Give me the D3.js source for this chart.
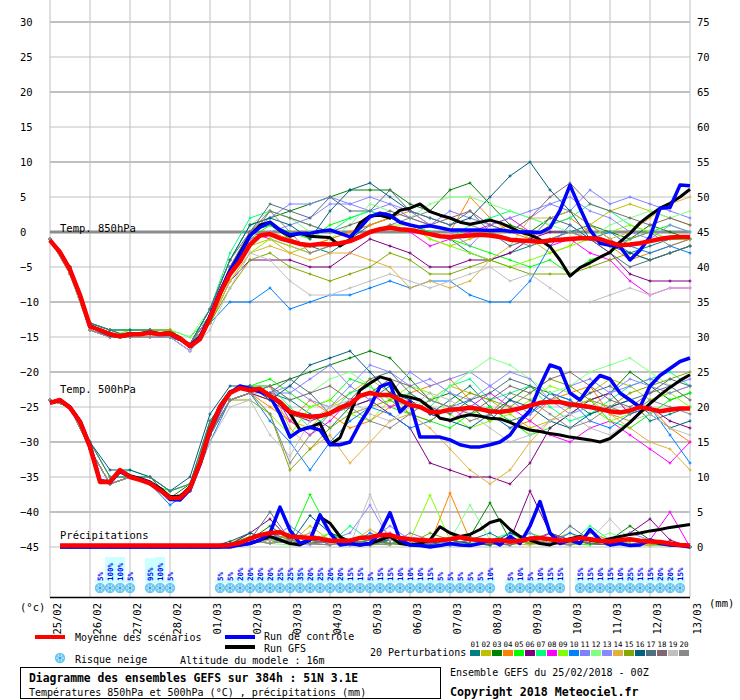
<!DOCTYPE html>
<html>
<head>
<meta charset="utf-8">
<script src="https://cdn.jsdelivr.net/npm/d3@7"></script>
<style>
  body { margin: 0; background: #fff; }
  text { font-family: "DejaVu Sans Mono", "Liberation Mono", monospace; }
</style>
</head>
<body>
<svg id="chart" width="740" height="700"></svg>
<script>
// ---- data (25/02/2018 00Z, 51N 3.1E) ----
const dayLabels = ['25/02','26/02','27/02','28/02','01/03','02/03','03/03','04/03','05/03',
  '06/03','07/03','08/03','09/03','10/03','11/03','12/03','13/03'];
const tempTicks = [-45,-40,-35,-30,-25,-20,-15,-10,-5,0,5,10,15,20,25,30];
const precipTicks = [0,5,10,15,20,25,30,35,40,45,50,55,60,65,70,75];

// 6-hourly series: mean, control run, GFS
const t850Mean = [-1.2,-2.9,-5.4,-9.0,-13.5,-14.0,-14.6,-14.9,-14.6,-14.6,
  -14.4,-14.6,-14.5,-15.2,-16.3,-15.3,-12.3,-8.8,-6.0,-4.2,
  -1.8,-0.5,-0.3,-0.9,-1.3,-1.7,-1.9,-1.7,-1.8,-1.6,
  -1.3,-0.7,0.0,0.4,0.6,0.4,0.3,0.0,-0.3,-0.6,
  -0.7,-0.6,-0.5,-0.4,-0.5,-0.7,-1.1,-1.2,-1.3,-1.4,
  -1.2,-1.1,-1.0,-0.9,-0.9,-1.0,-1.5,-1.9,-1.8,-1.6,
  -1.3,-1.0,-0.8,-0.7,-0.7];
const t850Ctrl = [-1.2,-2.9,-5.3,-9.1,-13.4,-14.1,-14.7,-14.9,-14.5,-14.6,
  -14.3,-14.6,-14.6,-15.3,-16.2,-15.0,-12.0,-8.5,-5.5,-3.3,
  -0.5,0.7,1.4,0.3,-0.4,-0.2,-0.2,0.1,0.3,-0.2,
  -0.7,0.6,2.2,2.7,2.4,1.4,1.0,0.7,0.9,0.6,
  0.3,0.3,0.3,0.3,0.2,0.3,0.1,0.0,0.0,-0.1,
  0.6,3.1,6.7,3.4,0.3,-1.6,-1.9,-2.1,-4.0,-2.6,
  -0.7,3.4,3.5,6.7,6.6];
const t850Gfs = [-1.2,-2.8,-5.4,-9.0,-13.5,-14.0,-14.5,-15.0,-14.7,-14.5,
  -14.4,-14.5,-14.4,-15.1,-16.4,-15.2,-12.2,-8.6,-5.6,-3.0,
  -0.5,1.0,1.4,0.2,-0.6,-0.2,-0.6,-0.7,-0.8,-2.0,
  -1.1,1.3,2.3,2.4,2.0,3.1,3.4,4.0,2.9,2.4,
  2.0,1.4,1.1,1.4,1.7,1.3,0.7,0.0,-0.4,-1.1,
  -2.1,-4.0,-6.3,-5.1,-4.4,-3.6,-2.9,-1.4,-0.2,1.3,
  2.4,3.4,4.1,5.0,6.1];
const t500Mean = [-24.4,-24.0,-25.1,-27.1,-30.7,-35.7,-35.7,-34.0,-35.0,-35.4,
  -35.9,-36.9,-38.0,-38.0,-36.6,-33.0,-28.3,-25.0,-23.0,-22.3,
  -22.6,-22.4,-23.4,-24.3,-25.7,-26.1,-26.4,-26.3,-25.9,-25.1,
  -24.6,-23.4,-23.0,-23.3,-23.3,-24.0,-24.7,-25.0,-25.7,-25.7,
  -25.4,-25.3,-25.1,-25.3,-25.6,-25.7,-25.5,-25.2,-24.8,-24.4,
  -24.3,-24.3,-24.6,-24.8,-25.0,-25.3,-25.6,-25.8,-25.5,-25.0,
  -25.3,-25.6,-25.4,-25.2,-25.2];
const t500Ctrl = [-24.4,-24.0,-25.0,-27.0,-30.5,-35.5,-35.8,-34.2,-35.0,-35.3,
  -35.8,-36.8,-38.2,-38.3,-36.8,-33.2,-28.5,-25.2,-23.0,-22.0,
  -22.4,-22.8,-23.5,-26.0,-29.3,-28.3,-27.9,-28.3,-30.4,-30.4,
  -30.0,-27.3,-25.0,-22.1,-21.6,-25.7,-24.3,-29.3,-29.3,-29.3,
  -29.7,-30.4,-30.7,-30.7,-30.4,-30.0,-29.0,-27.0,-25.5,-22.0,
  -19.0,-19.5,-23.0,-24.0,-22.0,-20.5,-21.0,-23.0,-24.0,-25.0,
  -22.0,-20.5,-19.5,-18.5,-18.0];
const t500Gfs = [-24.4,-24.1,-25.2,-27.2,-30.8,-35.6,-35.6,-34.1,-34.8,-35.2,
  -35.7,-36.6,-37.8,-37.8,-36.4,-32.8,-28.0,-24.8,-22.8,-22.3,
  -22.5,-22.8,-23.4,-24.5,-25.9,-28.3,-27.9,-27.3,-30.4,-29.4,
  -25.9,-22.6,-21.6,-20.7,-21.1,-23.3,-23.6,-24.0,-25.1,-26.6,
  -26.9,-26.4,-26.1,-26.3,-26.6,-26.7,-27.2,-27.8,-28.3,-28.5,
  -28.8,-29.0,-29.3,-29.5,-29.7,-30.0,-29.5,-28.4,-27.2,-25.8,
  -24.5,-23.3,-22.2,-21.2,-20.4];
const precipMean = [null,0.2,0.2,0.2,0.2,0.2,0.2,0.2,0.2,0.2,
  0.2,0.2,0.2,0.2,0.2,0.2,0.2,0.2,0.3,0.6,
  1.2,1.7,2.0,2.1,1.5,1.4,1.3,1.2,0.9,0.9,
  0.9,1.3,1.4,1.7,1.7,1.3,1.1,1.0,0.9,1.0,
  1.1,1.4,1.1,1.0,0.9,1.0,0.8,0.9,1.2,1.3,
  1.1,0.9,1.0,1.3,1.1,0.9,0.8,1.0,1.1,0.9,
  0.8,0.7,0.5,0.3,0.2];
const precipCtrl = [null,0,0,0,0,0,0,0,0,0,
  0,0,0,0,0,0,0,0,0,0.3,
  0.5,1.0,2.0,5.7,2.4,0.5,1.0,4.6,2.0,0.3,
  0.5,0.3,0.5,2.0,4.9,1.0,0.3,0.2,0,0.2,
  0.5,0.3,0.2,0.5,1.0,0.3,1.5,0.5,3.0,6.5,
  2.0,0.5,1.0,0.5,2.5,1.0,0.3,0.5,0.2,0.3,
  1.0,0.5,0.3,0.2,0];
const precipGfs = [null,0,0,0,0,0,0,0,0,0,
  0,0,0,0,0,0,0,0,0.2,0.3,
  0.5,1.0,1.5,1.0,0.5,0.3,1.0,4.3,3.4,1.5,
  0.5,0.3,0.5,1.0,1.5,0.5,0.3,0.5,1.0,2.9,
  2.0,1.5,1.8,2.5,3.5,3.9,2.5,1.5,1.0,0.5,
  0.3,0.8,1.2,1.5,1.0,0.8,1.2,1.5,1.8,2.0,
  2.3,2.5,2.8,3.0,3.2];

// 12-hourly perturbations 01..20
const pertColors = ['#008080','#c0c000','#008000','#ff8000','#00ff00','#800080','#00ff80',
  '#ff00ff','#80ff00','#0080ff','#8080ff','#80ff80','#8888ff','#e0b040','#80a800',
  '#006080','#507080','#806870','#c0c0c0','#888888'];
const pertNames = ['01','02','03','04','05','06','07','08','09','10',
  '11','12','13','14','15','16','17','18','19','20'];
const t850Pert = [
  [-1,-5,-13,-15,-15,-14,-15,-16,-12,-5,0,1,-1,-2,-3,-1,1,2,1,0,-1,-3,-4,-3,-2,-1,0,1,-1,-3,-2,-1,-1],
  [-1,-6,-14,-15,-14,-14,-14,-16,-13,-6,-2,-1,-3,-2,-1,0,1,2,1,-1,-2,-1,0,1,-1,-3,-2,1,3,4,3,2,1],
  [-1,-5,-13,-14,-15,-14,-15,-16,-11,-4,1,2,3,4,5,6,6,6,4,3,6,7,4,1,0,2,3,1,0,-1,1,0,-1],
  [-1,-5,-14,-15,-15,-15,-14,-16,-12,-6,-1,0,-1,-2,-1,0,1,2,3,1,0,5,2,0,-1,1,2,0,-2,-4,-3,-2,-1],
  [-1,-5,-13,-14,-14,-14,-14,-15,-12,-5,-1,1,0,-1,1,2,3,2,1,0,-1,-2,-3,-4,-5,-4,-6,-4,-3,-1,0,1,0],
  [-1,-6,-14,-15,-15,-14,-15,-16,-13,-7,-4,-4,-4,-5,-5,-3,-1,-2,-3,-5,-5,-4,-4,-3,-1,0,0,-1,-3,-6,-7,-7,-7],
  [-1,-5,-13,-14,-14,-14,-15,-16,-11,-3,2,3,2,1,0,2,3,2,1,0,-1,1,2,3,2,1,2,4,3,1,0,-1,-1],
  [-1,-5,-14,-15,-15,-15,-15,-17,-12,-6,0,-1,-2,-3,-2,-1,0,1,0,-2,-1,0,1,2,0,-2,-1,-3,-4,-7,-9,-8,-8],
  [-1,-6,-14,-15,-14,-14,-15,-16,-13,-7,-3,-1,-2,-3,-2,-1,0,1,1,-1,-2,-3,-4,-5,-4,-3,-2,-1,0,1,0,-1,-1],
  [-1,-6,-14,-15,-15,-15,-15,-17,-13,-10,-10,-8,-11,-10,-9,-9,-8,-7,-8,-7,-7,-9,-10,-10,-7,-2,1,-1,0,-2,-3,-2,-3],
  [-1,-5,-13,-15,-15,-14,-14,-16,-12,-5,0,2,4,4,5,4,3,4,2,1,3,2,1,0,2,4,3,6,4,5,4,3,2],
  [-1,-5,-13,-14,-14,-14,-14,-15,-11,-4,1,3,2,0,-1,1,4,3,2,4,5,5,4,3,2,1,0,-1,1,2,3,2,3],
  [-1,-5,-14,-15,-15,-15,-15,-16,-12,-5,-1,0,1,2,4,4,5,4,3,1,0,-2,1,2,3,4,5,3,2,0,-1,1,0],
  [-1,-6,-14,-15,-15,-15,-14,-16,-13,-7,-3,-2,-3,-4,-3,-3,-4,-5,-8,-7,-8,-7,-4,-2,2,2,3,1,-1,0,2,4,5],
  [-1,-6,-14,-15,-15,-14,-14,-16,-13,-8,-4,-3,-5,-6,-7,-6,-5,-3,-4,-6,-6,-5,-4,-5,-6,-6,-6,-5,-4,-3,-4,-3,-2],
  [-1,-5,-13,-14,-14,-14,-15,-16,-11,-4,1,2,1,-1,3,6,7,5,3,2,1,2,5,8,10,6,3,-1,-2,-3,-4,-3,-2],
  [-1,-5,-13,-14,-15,-14,-15,-16,-11,-4,0,4,3,2,5,3,3,6,3,2,1,3,0,-2,-1,2,1,-1,-3,-5,-4,-3,-2],
  [-1,-5,-14,-15,-15,-14,-15,-16,-12,-5,0,3,2,1,0,1,2,3,2,1,2,3,1,0,2,5,7,4,3,2,1,2,1],
  [-1,-6,-14,-15,-15,-15,-15,-17,-14,-8,-3,-4,-7,-9,-9,-8,-7,-6,-7,-8,-7,-6,-5,-7,-6,-8,-10,-10,-9,-8,-9,-8,-8],
  [-1,-5,-14,-15,-15,-15,-15,-16,-12,-6,-1,3,0,-3,-2,-1,0,1,2,3,2,1,0,-1,-2,-1,0,-1,-2,-1,0,-2,-1]
];
const t500Pert = [
  [-24,-25,-31,-36,-35,-36,-38,-37,-29,-23,-22,-23,-24,-26,-28,-25,-24,-22,-24,-26,-24,-22,-25,-27,-26,-23,-24,-26,-25,-24,-27,-26,-25],
  [-24,-25,-31,-36,-35,-36,-38,-37,-29,-24,-23,-24,-27,-28,-25,-23,-21,-23,-26,-24,-22,-23,-24,-26,-28,-27,-25,-23,-21,-22,-24,-23,-22],
  [-24,-25,-30,-35,-35,-35,-38,-36,-27,-23,-22,-22,-21,-20,-19,-18,-17,-18,-21,-24,-23,-25,-27,-24,-22,-23,-25,-24,-23,-20,-22,-24,-23],
  [-24,-25,-31,-36,-35,-36,-38,-37,-29,-24,-23,-25,-27,-24,-26,-28,-27,-25,-23,-22,-21,-24,-26,-28,-27,-24,-23,-22,-26,-27,-25,-28,-30],
  [-24,-25,-31,-36,-35,-36,-37,-36,-28,-23,-22,-21,-23,-25,-24,-21,-22,-25,-26,-27,-28,-26,-25,-27,-29,-28,-26,-24,-27,-28,-26,-24,-23],
  [-24,-25,-31,-36,-35,-36,-38,-37,-29,-24,-23,-24,-26,-27,-26,-25,-24,-26,-28,-33,-34,-35,-35,-36,-33,-28,-26,-24,-23,-26,-25,-27,-28],
  [-24,-25,-30,-35,-34,-35,-37,-36,-27,-23,-22,-22,-25,-28,-26,-23,-22,-24,-23,-25,-22,-21,-24,-23,-22,-25,-27,-26,-24,-22,-21,-20,-22],
  [-24,-25,-31,-36,-35,-36,-38,-37,-29,-24,-23,-22,-27,-29,-27,-24,-23,-25,-24,-26,-27,-25,-23,-25,-27,-29,-30,-28,-27,-29,-31,-33,-30],
  [-24,-25,-31,-36,-35,-36,-38,-37,-29,-24,-23,-26,-29,-25,-24,-26,-27,-24,-22,-23,-26,-28,-27,-26,-24,-22,-23,-25,-27,-26,-24,-23,-25],
  [-24,-25,-31,-36,-35,-36,-39,-37,-30,-24,-23,-27,-30,-34,-30,-27,-25,-26,-28,-27,-25,-24,-26,-28,-26,-23,-24,-27,-28,-26,-25,-29,-33],
  [-24,-25,-31,-36,-35,-36,-38,-37,-29,-23,-22,-23,-23,-21,-19,-22,-24,-23,-20,-22,-21,-20,-22,-24,-26,-24,-22,-21,-23,-22,-21,-22,-21],
  [-24,-25,-30,-35,-35,-35,-37,-36,-28,-23,-22,-22,-24,-23,-21,-20,-22,-24,-25,-24,-22,-20,-18,-19,-21,-23,-22,-20,-19,-18,-20,-22,-24],
  [-24,-25,-31,-36,-35,-36,-38,-37,-29,-24,-23,-23,-22,-24,-25,-22,-19,-20,-22,-21,-23,-24,-22,-20,-21,-24,-26,-25,-23,-21,-22,-23,-22],
  [-24,-25,-31,-36,-35,-36,-38,-37,-29,-24,-23,-22,-28,-31,-29,-33,-30,-27,-26,-28,-31,-34,-36,-34,-30,-27,-25,-24,-26,-28,-30,-31,-34],
  [-24,-25,-31,-36,-35,-36,-38,-37,-29,-24,-24,-26,-34,-31,-28,-26,-25,-24,-26,-27,-25,-23,-24,-25,-23,-21,-22,-24,-25,-23,-22,-21,-20],
  [-24,-25,-30,-34,-34,-35,-37,-35,-26,-22,-22,-24,-22,-19,-18,-17,-20,-23,-24,-26,-27,-28,-26,-24,-25,-27,-28,-26,-25,-24,-26,-28,-27],
  [-24,-25,-30,-35,-35,-35,-37,-36,-27,-23,-22,-23,-21,-23,-26,-24,-21,-20,-23,-25,-26,-24,-23,-21,-22,-24,-25,-23,-22,-24,-23,-21,-22],
  [-24,-25,-31,-36,-35,-36,-38,-37,-29,-24,-23,-22,-24,-23,-22,-24,-23,-21,-22,-24,-25,-26,-24,-22,-23,-21,-20,-22,-24,-25,-23,-22,-24],
  [-24,-25,-31,-36,-35,-36,-38,-37,-30,-25,-24,-29,-32,-27,-25,-24,-26,-27,-25,-23,-24,-26,-28,-30,-29,-27,-26,-28,-29,-27,-26,-28,-29],
  [-24,-25,-31,-36,-35,-36,-38,-37,-29,-24,-23,-26,-33,-29,-26,-25,-27,-28,-26,-24,-25,-27,-26,-23,-24,-26,-28,-27,-25,-26,-24,-25,-26]
];
const precipPert = [
  [0,0,0,0,0,0,0,0,0,0.3,1,0.5,2,1,0.5,1,0.3,0.5,1,0.5,0.2,1,2,0.5,1,0.5,0.3,1,0.5,0.2,0.5,0.3,0],
  [0,0,0,0,0,0,0,0,0,0.5,2,1,0.5,3,1,0.5,0.2,1,0.5,0.3,1,0.5,0.3,1.5,0.5,1,2,0.5,0.3,1,0.5,0.2,0],
  [0,0,0,0,0,0,0,0,0,0.2,1,3,1,0.5,2,0.5,1,0.5,0.3,0.5,1,1.5,6.3,1,0.5,2,1,0.5,1,3,1,0.5,0],
  [0,0,0,0,0,0,0,0,0,0.3,1,0.5,1,2,0.5,0.3,1,0.5,1,0.5,7.7,1,0.5,0.3,1,0.5,0.3,2,1,0.5,0.2,0.5,0],
  [0,0,0,0,0,0,0,0,0,0.5,1.5,1,1,7.5,2,0.5,1,0.5,0.3,1,0.5,0.3,1,0.5,2,1,0.5,0.3,1,0.5,0.3,0.2,0],
  [0,0,0,0,0,0,0,0,0,0.3,2,4,1,0.5,1,0.5,0.3,1,0.5,0.5,1,0.5,0.3,1,8,2,0.5,1,0.5,2,4,1,0],
  [0,0,0,0,0,0,0,0,0,0.5,1,0.5,2,1,0.5,3,1,0.5,1,0.3,1,0.5,1,2,0.5,1,0.5,3,1,0.5,0.3,0.5,0],
  [0,0,0,0,0,0,0,0,0,0.2,0.5,2,1,0.5,0.3,1,0.5,2,0.5,0.3,1,0.5,0.3,1,0.5,2,1,0.5,1,0.3,1,5,0],
  [0,0,0,0,0,0,0,0,0,0.3,1,0.5,1,0.5,2,1,0.5,0.3,1,7.4,1,0.5,0.3,1,0.5,1,0.3,0.5,1,0.5,0.3,0.2,0],
  [0,0,0,0,0,0,0,0,0,0.2,1,2,0.5,1,0.5,0.3,2,1,0.5,0.3,0.5,1,0.5,0.3,1,0.5,2,1,0.5,0.3,1,0.5,0],
  [0,0,0,0,0,0,0,0,0,0.3,0.5,1,3,1,0.5,0.3,1,3,1,0.5,0.3,1,0.5,2,1,0.5,1,0.5,0.3,2,1,0.5,0],
  [0,0,0,0,0,0,0,0,0,0.5,1,0.5,0.3,1,2,1,0.5,1,0.5,0.3,1,6,1,0.5,0.3,1,0.5,1,2,1,0.5,0.3,0],
  [0,0,0,0,0,0,0,0,0,0.2,0.5,1,0.5,0.3,1,2,6,1,0.5,1,0.5,0.3,1,0.5,2,0.5,0.3,1,0.5,1,0.5,0.3,0],
  [0,0,0,0,0,0,0,0,0,0.3,1,0.5,2,0.5,1,0.5,2.5,1,0.5,1,0.5,0.3,1,0.5,0.3,1,0.5,2,1,0.5,0.3,0.5,0],
  [0,0,0,0,0,0,0,0,0,0.5,1,2,1,0.5,0.3,1,0.5,1,0.5,2,1,0.5,0.3,1,0.5,0.3,1,0.5,0.3,1,0.5,0.3,0],
  [0,0,0,0,0,0,0,0,0,0.8,2,1,0.5,4.5,2,1,0.5,1,0.5,0.3,1,0.5,0.3,2,1,0.5,1,0.5,0.3,1,0.5,0.3,0],
  [0,0,0,0,0,0,0,0,0,0.3,1,5,1,0.5,1,0.5,0.3,1,0.5,1,0.5,0.3,1,0.5,1,0.5,3,1,0.5,0.3,1,0.5,0],
  [0,0,0,0,0,0,0,0,0,0.2,0.5,1,0.5,1,0.5,0.3,1,0.5,0.3,1,0.5,1,0.5,0.3,1,2,1,0.5,0.3,1,0.5,0.3,0],
  [0,0,0,0,0,0,0,0,0,0.3,0.5,1,0.5,2,0.5,0.3,7.5,1,0.5,1,0.5,0.3,1,0.5,1,0.5,0.3,1,4,1,0.5,0.3,0],
  [0,0,0,0,0,0,0,0,0,0.2,1,0.5,1,0.5,0.3,1,0.5,0.3,2,1,0.5,0.3,1,0.5,1,0.5,0.3,1,0.5,0.3,1,0.5,0]
];

// snow risk (% of members) at forecast hour
const snowHours = [30,36,42,48, 60,66,72,
  102,108,114,120,126,132,138,144,150,156,162,168,174,180,186,192,198,204,210,216,222,228,234,240,246,252,258,264,
  276,282,288,294,300,306,
  318,324,330,336,342,348,354,360,366,372,378];
const snowPct = [5,100,100,5, 95,100,5,
  5,5,20,20,20,20,25,25,35,20,25,20,20,15,15,5,15,15,10,10,10,15,5,5,5,5,5,10,
  5,10,5,10,15,15,
  15,15,10,15,10,25,15,15,20,20,15];

// ---- chart ----
const svg = d3.select('#chart');
const dayHours = dayLabels.map((d, i) => i * 24);

const x = d3.scaleLinear().domain([0, 384]).range([50, 690]);
const yT = d3.scaleLinear().domain([-45, 30]).range([547, 22]);
const yP = d3.scaleLinear().domain([0, 75]).range([547, 22]);

// grid
const grid = svg.append('g');
grid.selectAll('.vline').data(dayHours).enter().append('line')
  .attr('x1', d => x(d)).attr('x2', d => x(d))
  .attr('y1', 0).attr('y2', 597)
  .attr('stroke', '#c0c0c0').attr('stroke-width', 1);
grid.selectAll('.hline').data(tempTicks).enter().append('line')
  .attr('x1', 50).attr('x2', 690)
  .attr('y1', d => yT(d)).attr('y2', d => yT(d))
  .attr('stroke', d => d === 0 ? '#8c8c8c' : '#c0c0c0')
  .attr('stroke-width', d => d === 0 ? 3 : (d % 10 === 0 ? 2 : 1));

svg.append('line').attr('x1', 50).attr('x2', 690).attr('y1', 597.5).attr('y2', 597.5)
  .attr('stroke', '#000').attr('stroke-width', 1.5);

// axes
const axL = svg.append('g').attr('transform', 'translate(20,0)')
  .call(d3.axisLeft(yT).tickValues(tempTicks).tickSize(0).tickPadding(0));
axL.select('.domain').remove();
axL.selectAll('text').attr('x', 0).attr('text-anchor', 'start')
  .style('font-size', '10.5px').attr('fill', '#000');

const axR = svg.append('g').attr('transform', 'translate(697,0)')
  .call(d3.axisRight(yP).tickValues(precipTicks).tickSize(0).tickPadding(0));
axR.select('.domain').remove();
axR.selectAll('text').attr('x', 0).style('font-size', '10.5px').attr('fill', '#000');

const axB = svg.append('g').attr('transform', 'translate(0,597)')
  .call(d3.axisBottom(x).tickValues(dayHours).tickSize(0).tickFormat((d, i) => dayLabels[i]));
axB.select('.domain').remove();
axB.selectAll('text')
  .attr('transform', 'rotate(-90)')
  .attr('x', -6).attr('y', 10.5).attr('dy', 0)
  .attr('text-anchor', 'end')
  .style('font-size', '10.5px').attr('fill', '#000');

svg.append('text').attr('x', 20).attr('y', 611).text('(°c)').style('font-size', '10.5px');
svg.append('text').attr('x', 709).attr('y', 607).text('(mm)').style('font-size', '10.5px');

// panel labels
svg.append('text').attr('x', 60).attr('y', 232).text('Temp. 850hPa').style('font-size', '10.5px');
svg.append('text').attr('x', 60).attr('y', 393).text('Temp. 500hPa').style('font-size', '10.5px');
svg.append('text').attr('x', 60).attr('y', 539).text('Précipitations').style('font-size', '10.5px');

// line generators
const line6T = d3.line().defined(d => d != null).x((d, i) => x(i * 6)).y(d => yT(d));
const line6P = d3.line().defined(d => d != null).x((d, i) => x(i * 6)).y(d => yP(d));
const line12T = d3.line().x((d, i) => x(i * 12)).y(d => yT(d));
const line12P = d3.line().defined((d, i) => i > 0).x((d, i) => x(i * 12)).y(d => yP(d));

function crosses(values, yScale, skipFirst) {
  return values.map((v, i) => {
    if (skipFirst && i === 0) return '';
    const cx = x(i * 12), cy = yScale(v);
    return `M${cx - 1.5},${cy}H${cx + 1.5}M${cx},${cy - 1.5}V${cy + 1.5}`;
  }).join('');
}

const pertG = svg.append('g').attr('fill', 'none');
[[t850Pert, yT, line12T, false], [t500Pert, yT, line12T, false], [precipPert, yP, line12P, true]]
  .forEach(([set, ys, gen, skip]) => {
    set.forEach((vals, k) => {
      pertG.append('path').attr('d', gen(vals))
        .attr('stroke', pertColors[k]).attr('stroke-width', 1);
      pertG.append('path').attr('d', crosses(vals, ys, skip))
        .attr('stroke', pertColors[k]).attr('stroke-width', 1);
    });
  });

const mainG = svg.append('g').attr('fill', 'none').attr('stroke-linejoin', 'round');
[[t850Gfs, line6T], [t500Gfs, line6T], [precipGfs, line6P]].forEach(([v, gen]) =>
  mainG.append('path').attr('d', gen(v)).attr('stroke', '#000').attr('stroke-width', 3));
[[t850Ctrl, line6T], [t500Ctrl, line6T], [precipCtrl, line6P]].forEach(([v, gen]) =>
  mainG.append('path').attr('d', gen(v)).attr('stroke', '#0000ff').attr('stroke-width', 3.5));
[[t850Mean, line6T], [t500Mean, line6T], [precipMean, line6P]].forEach(([v, gen]) =>
  mainG.append('path').attr('d', gen(v)).attr('stroke', '#ff0000').attr('stroke-width', 4.5));

// snow risk strip
function flake(g, cx, cy) {
  g.append('circle').attr('cx', cx).attr('cy', cy).attr('r', 5.2).attr('fill', '#6cc6ee');
  [0, 60, 120].forEach(a => {
    const r = a * Math.PI / 180, dx = 4 * Math.cos(r), dy = 4 * Math.sin(r);
    g.append('line').attr('x1', cx - dx).attr('y1', cy - dy).attr('x2', cx + dx).attr('y2', cy + dy)
      .attr('stroke', '#d8f4ff').attr('stroke-width', 0.9);
  });
  g.append('circle').attr('cx', cx).attr('cy', cy).attr('r', 1.2).attr('fill', '#3a9ad8');
}

const snowG = svg.append('g');
snowG.selectAll('rect').data(snowHours).enter().append('rect')
  .attr('x', d => x(d) - 5).attr('width', 10)
  .attr('y', (d, i) => 583 - (2 + 0.24 * snowPct[i]))
  .attr('height', (d, i) => 2 + 0.24 * snowPct[i])
  .attr('fill', '#ccffff');
snowHours.forEach(h => flake(snowG, x(h), 588));
snowG.selectAll('text').data(snowHours).enter().append('text')
  .attr('transform', d => `translate(${x(d) + 2.8},581) rotate(-90)`)
  .attr('fill', '#0000ff').style('font-size', '7.5px').style('font-weight', 'bold')
  .text((d, i) => snowPct[i] + '%');

// legend
const leg = svg.append('g').style('font-size', '10px');
leg.append('line').attr('x1', 35).attr('x2', 65).attr('y1', 637).attr('y2', 637)
  .attr('stroke', '#ff0000').attr('stroke-width', 4);
leg.append('text').attr('x', 75).attr('y', 640.5).text('Moyenne des scénarios');
leg.append('line').attr('x1', 225).attr('x2', 255).attr('y1', 637).attr('y2', 637)
  .attr('stroke', '#0000ff').attr('stroke-width', 4);
leg.append('text').attr('x', 264).attr('y', 640).text('Run de contrôle');
leg.append('line').attr('x1', 225).attr('x2', 255).attr('y1', 647).attr('y2', 647)
  .attr('stroke', '#000').attr('stroke-width', 4);
leg.append('text').attr('x', 264).attr('y', 652).text('Run GFS');
flake(leg, 60, 658);
leg.append('text').attr('x', 75).attr('y', 663).text('Risque neige');
leg.append('text').attr('x', 180).attr('y', 664).text('Altitude du modele : 16m');
leg.append('text').attr('x', 370).attr('y', 656).text('20 Perturbations');

const pertLeg = svg.append('g');
pertLeg.selectAll('rect').data(pertColors).enter().append('rect')
  .attr('x', (d, i) => 470 + i * 11).attr('y', 650).attr('width', 10).attr('height', 6)
  .attr('fill', d => d);
pertLeg.selectAll('text').data(pertNames).enter().append('text')
  .attr('x', (d, i) => 475 + i * 11).attr('y', 647).attr('text-anchor', 'middle')
  .style('font-size', '7.5px').text(d => d);

// title box
svg.append('rect').attr('x', 20.5).attr('y', 667.5).attr('width', 420).attr('height', 31)
  .attr('fill', 'none').attr('stroke', '#000').attr('stroke-width', 1);
svg.append('text').attr('x', 29).attr('y', 682).style('font-size', '11.4px').style('font-weight', 'bold')
  .text('Diagramme des ensembles GEFS sur 384h : 51N 3.1E');
svg.append('text').attr('x', 29).attr('y', 696).style('font-size', '10px')
  .text('Températures 850hPa et 500hPa (°C) , précipitations (mm)');
svg.append('text').attr('x', 450).attr('y', 676).style('font-size', '10px')
  .text('Ensemble GEFS du 25/02/2018 - 00Z');
svg.append('text').attr('x', 450).attr('y', 696).style('font-size', '11.6px').style('font-weight', 'bold')
  .text('Copyright 2018 Meteociel.fr');
</script>
</body>
</html>
